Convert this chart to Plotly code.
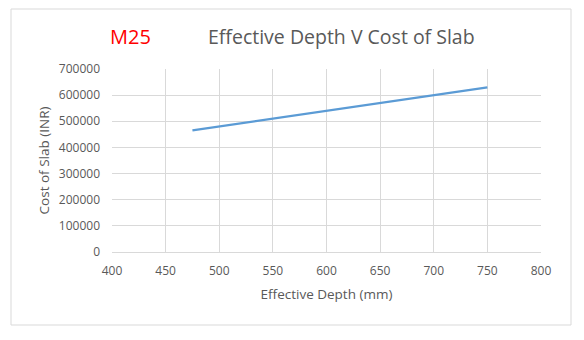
import plotly.graph_objects as go

depth_mm = [475, 500, 550, 600, 650, 700, 750]
cost_inr = [465000, 480000, 510000, 540000, 570000, 600000, 630000]
x_ticks = [400, 450, 500, 550, 600, 650, 700, 750, 800]
y_ticks = [0, 100000, 200000, 300000, 400000, 500000, 600000, 700000]

# page has an 8px body margin; plot area in page pixels: x 112..541, y 69..252
OFF = 8
W, H = 584 - OFF, 340 - OFF
L, R, T, B = 112 - OFF, 43, 69 - OFF, 88
pw, ph = W - L - R, H - T - B

def px(xp):
    return (xp - 112) / pw

def py(yp):
    return (252 - yp) / ph

font_fam = "Open Sans, Liberation Sans, sans-serif"
grey = "#595959"

fig = go.Figure()
fig.add_trace(go.Scatter(x=depth_mm, y=cost_inr, mode="lines",
                         line=dict(color="#5B9BD5", width=2.25),
                         hoverinfo="x+y", showlegend=False))

fig.update_layout(
    width=W, height=H,
    margin=dict(l=L, r=R, t=T, b=B),
    paper_bgcolor="white", plot_bgcolor="white",
    font=dict(family=font_fam, color=grey, size=12),
    xaxis=dict(range=[400, 800], tickvals=x_ticks, ticktext=[str(v) for v in x_ticks],
               showgrid=True, gridcolor="#d9d9d9", gridwidth=1,
               zeroline=False, showline=True, linecolor="#d9d9d9",
               ticks="", ticklabelstandoff=8,
               title=dict(text="Effective Depth (mm)", font=dict(size=13.5, color=grey), standoff=11)),
    yaxis=dict(range=[0, 700000], tickvals=y_ticks, ticktext=[str(v) for v in y_ticks],
               showgrid=True, gridcolor="#d9d9d9", gridwidth=1,
               zeroline=False, showline=False, ticks="", ticklabelstandoff=11,
               title=dict(text="Cost of Slab (INR)", font=dict(size=13.5, color=grey), standoff=6)),
    shapes=[dict(type="rect", xref="paper", yref="paper",
                 x0=px(11), x1=px(571), y0=py(325), y1=py(9),
                 line=dict(color="#d9d9d9", width=1), fillcolor="rgba(0,0,0,0)", layer="below")],
    annotations=[
        dict(text="M25", xref="paper", yref="paper", x=px(108), y=py(36),
             xanchor="left", yanchor="middle", showarrow=False,
             font=dict(size=20, color="#FF0000", family=font_fam)),
        dict(text="Effective Depth V Cost of Slab", xref="paper", yref="paper",
             x=px(341), y=py(36), xanchor="center", yanchor="middle", showarrow=False,
             font=dict(size=19.5, color=grey, family=font_fam)),
    ],
)

fig.write_html("out.html")
